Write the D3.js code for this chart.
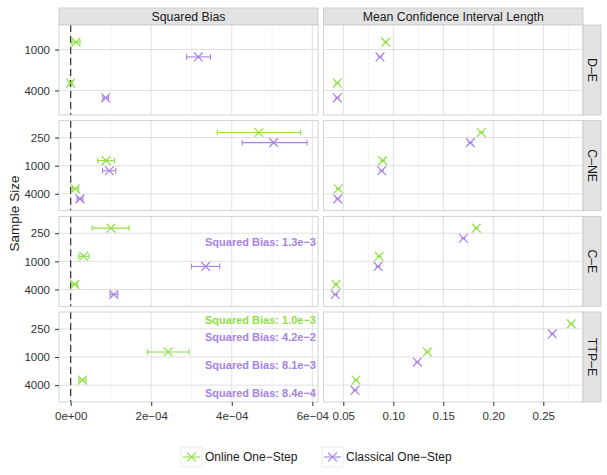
<!DOCTYPE html>
<html>
<head>
<meta charset="utf-8">
<script src="https://cdn.jsdelivr.net/npm/d3@7/dist/d3.min.js"></script>
<style>
  body { margin: 0; background: #fff; }
  svg { font-family: "Liberation Sans", Arial, Helvetica, sans-serif; }
</style>
</head>
<body>
<div id="chart"></div>
<script>

// facet rows and sample sizes per row
var panelRows = ["D\u2013E", "C\u2013NE", "C\u2013E", "TTP\u2013E"];
var sampleSizes = [["1000", "4000"], ["250", "1000", "4000"], ["250", "1000", "4000"], ["250", "1000", "4000"]];
var methods = ["Online One\u2212Step", "Classical One\u2212Step"];
var columns = ["Squared Bias", "Mean Confidence Interval Length"];

// squared bias: [row, n, estimate, lower, upper]
var onlineBias = [
  ["D\u2013E", "1000", 1.3e-5, 0.3e-5, 2.3e-5],
  ["D\u2013E", "4000", 0.0, -0.4e-5, 0.4e-5],
  ["C\u2013NE", "250", 4.67e-4, 3.64e-4, 5.71e-4],
  ["C\u2013NE", "1000", 8.8e-5, 6.7e-5, 1.09e-4],
  ["C\u2013NE", "4000", 1.15e-5, 0.4e-5, 2.0e-5],
  ["C\u2013E", "250", 1.0e-4, 5.3e-5, 1.45e-4],
  ["C\u2013E", "1000", 3.2e-5, 2.0e-5, 4.5e-5],
  ["C\u2013E", "4000", 1.0e-5, 0.3e-5, 1.7e-5],
  ["TTP\u2013E", "250", 1.0e-3, 1.0e-3, 1.0e-3],
  ["TTP\u2013E", "1000", 2.42e-4, 1.91e-4, 2.94e-4],
  ["TTP\u2013E", "4000", 2.9e-5, 2.0e-5, 3.8e-5]
];
var classicalBias = [
  ["D\u2013E", "1000", 3.17e-4, 2.88e-4, 3.47e-4],
  ["D\u2013E", "4000", 8.7e-5, 8.0e-5, 9.4e-5],
  ["C\u2013NE", "250", 5.04e-4, 4.26e-4, 5.87e-4],
  ["C\u2013NE", "1000", 9.6e-5, 7.9e-5, 1.12e-4],
  ["C\u2013NE", "4000", 2.3e-5, 1.6e-5, 3.0e-5],
  ["C\u2013E", "250", 1.3e-3, 1.3e-3, 1.3e-3],
  ["C\u2013E", "1000", 3.35e-4, 3.0e-4, 3.7e-4],
  ["C\u2013E", "4000", 1.07e-4, 9.8e-5, 1.17e-4],
  ["TTP\u2013E", "250", 4.2e-2, 4.2e-2, 4.2e-2],
  ["TTP\u2013E", "1000", 8.1e-3, 8.1e-3, 8.1e-3],
  ["TTP\u2013E", "4000", 8.4e-4, 8.4e-4, 8.4e-4]
];

// mean confidence interval length: [row, n, value]
var onlineCILength = [
  ["D\u2013E", "1000", 0.0924], ["D\u2013E", "4000", 0.0440],
  ["C\u2013NE", "250", 0.188], ["C\u2013NE", "1000", 0.0894], ["C\u2013NE", "4000", 0.0450],
  ["C\u2013E", "250", 0.183], ["C\u2013E", "1000", 0.0857], ["C\u2013E", "4000", 0.0427],
  ["TTP\u2013E", "250", 0.278], ["TTP\u2013E", "1000", 0.134], ["TTP\u2013E", "4000", 0.0627]
];
var classicalCILength = [
  ["D\u2013E", "1000", 0.0867], ["D\u2013E", "4000", 0.0440],
  ["C\u2013NE", "250", 0.177], ["C\u2013NE", "1000", 0.0884], ["C\u2013NE", "4000", 0.0444],
  ["C\u2013E", "250", 0.170], ["C\u2013E", "1000", 0.0847], ["C\u2013E", "4000", 0.0420],
  ["TTP\u2013E", "250", 0.259], ["TTP\u2013E", "1000", 0.124], ["TTP\u2013E", "4000", 0.0617]
];

var biasTicks = [0, 2e-4, 4e-4, 6e-4];
var ciTicks = [0.05, 0.10, 0.15, 0.20, 0.25];

var colors = ["#8ee046", "#a681e6"];

var width = 607, height = 475;
var leftPanel = [59, 318], rightPanel = [323.5, 583], stripX = [583, 601];
var topStrip = [8, 25];
var rowTop = 25, rowH = 90, rowGap = 5.67;

var svg = d3.select("#chart").append("svg")
  .attr("width", width).attr("height", height);

var xBias = d3.scaleLinear().domain([0, 6e-4]).range([70.7, 312.3]);
var xCI = d3.scaleLinear().domain([0.05, 0.25]).range([343.3, 543.3]);
var biasMax = xBias.invert(leftPanel[1]);

function sciFormat(d) {
  if (d === 0) return "0e+00";
  var s = d3.format(".0e")(d);           // e.g. 2e-4
  var parts = s.split("e");
  var exp = +parts[1];
  return parts[0] + "e" + (exp < 0 ? "\u2212" : "+") + d3.format("02d")(Math.abs(exp));
}

function drawX(g, cx, cy, r, color) {
  g.append("path")
    .attr("d", "M" + (cx - r) + "," + (cy - r) + "L" + (cx + r) + "," + (cy + r) +
               "M" + (cx - r) + "," + (cy + r) + "L" + (cx + r) + "," + (cy - r))
    .attr("stroke", color).attr("stroke-width", 1.2).attr("fill", "none");
}

// column strips
[leftPanel, rightPanel].forEach(function (p, i) {
  svg.append("rect")
    .attr("x", p[0]).attr("y", topStrip[0])
    .attr("width", p[1] - p[0]).attr("height", topStrip[1] - topStrip[0])
    .attr("fill", "#e3e3e3").attr("stroke", "#c8c8c8").attr("stroke-width", 0.8);
  svg.append("text")
    .attr("x", (p[0] + p[1]) / 2).attr("y", (topStrip[0] + topStrip[1]) / 2)
    .attr("dy", "0.35em").attr("text-anchor", "middle")
    .attr("font-size", 12.3).attr("fill", "#1a1a1a")
    .text(columns[i]);
});

panelRows.forEach(function (row, ri) {
  var top = rowTop + ri * (rowH + rowGap);
  var bottom = top + rowH;
  var y = d3.scalePoint().domain(sampleSizes[ri]).range([top, bottom]).padding(0.6);
  var dodge = y.step() * 0.18;
  var textShift = 8.5;

  [leftPanel, rightPanel].forEach(function (p, ci) {
    var g = svg.append("g");
    var xs = ci === 0 ? xBias : xCI;
    g.append("rect")
      .attr("x", p[0]).attr("y", top).attr("width", p[1] - p[0]).attr("height", rowH)
      .attr("fill", "#fff");

    // minor grid
    var majors = ci === 0 ? biasTicks : ciTicks;
    var step = majors[1] - majors[0];
    var minors = [];
    for (var k = -1; k < majors.length; k++) {
      var m = majors[0] + (k + 0.5) * step;
      if (xs(m) > p[0] && xs(m) < p[1]) minors.push(m);
    }
    g.selectAll(".minor").data(minors).enter().append("line")
      .attr("x1", xs).attr("x2", xs).attr("y1", top).attr("y2", bottom)
      .attr("stroke", "#ececec").attr("stroke-width", 0.6);
    g.selectAll(".major").data(majors.filter(function (d) { return xs(d) <= p[1]; })).enter().append("line")
      .attr("x1", xs).attr("x2", xs).attr("y1", top).attr("y2", bottom)
      .attr("stroke", "#dcdcdc").attr("stroke-width", 0.9);
    g.selectAll(".hgrid").data(sampleSizes[ri]).enter().append("line")
      .attr("x1", p[0]).attr("x2", p[1]).attr("y1", y).attr("y2", y)
      .attr("stroke", "#dcdcdc").attr("stroke-width", 0.9);

    if (ci === 0) {
      g.append("line")
        .attr("x1", xBias(0)).attr("x2", xBias(0)).attr("y1", top).attr("y2", bottom)
        .attr("stroke", "#222").attr("stroke-width", 1.1).attr("stroke-dasharray", "7,4");

      [onlineBias, classicalBias].forEach(function (series, si) {
        var off = si === 0 ? -dodge : dodge;
        series.filter(function (d) { return d[0] === row; }).forEach(function (d) {
          var cy = y(d[1]) + off;
          if (d[2] > biasMax) {
            g.append("text")
              .attr("x", p[1] - 2).attr("y", y(d[1]) + (si === 0 ? -textShift : textShift))
              .attr("dy", "0.35em").attr("text-anchor", "end")
              .attr("font-size", 11).attr("font-weight", "bold").attr("fill", colors[si])
              .text("Squared Bias: " + d3.format(".1e")(d[2]).replace("-", "\u2212"));
            return;
          }
          g.append("line")
            .attr("x1", xBias(d[3])).attr("x2", xBias(d[4])).attr("y1", cy).attr("y2", cy)
            .attr("stroke", colors[si]).attr("stroke-width", 1.1);
          [d[3], d[4]].forEach(function (v) {
            g.append("line")
              .attr("x1", xBias(v)).attr("x2", xBias(v)).attr("y1", cy - 2.8).attr("y2", cy + 2.8)
              .attr("stroke", colors[si]).attr("stroke-width", 1.1);
          });
          drawX(g, xBias(d[2]), cy, 4.4, colors[si]);
        });
      });
    } else {
      [onlineCILength, classicalCILength].forEach(function (series, si) {
        var off = si === 0 ? -dodge : dodge;
        series.filter(function (d) { return d[0] === row; }).forEach(function (d) {
          var cy = y(d[1]) + off;
          g.append("line")
            .attr("x1", xCI(d[2]) - 2.5).attr("x2", xCI(d[2]) + 2.5).attr("y1", cy).attr("y2", cy)
            .attr("stroke", colors[si]).attr("stroke-width", 1.1);
          drawX(g, xCI(d[2]), cy, 4.4, colors[si]);
        });
      });
    }

    g.append("rect")
      .attr("x", p[0]).attr("y", top).attr("width", p[1] - p[0]).attr("height", rowH)
      .attr("fill", "none").attr("stroke", "#c8c8c8").attr("stroke-width", 0.8);
  });

  // y axis
  var ya = svg.append("g").attr("transform", "translate(" + leftPanel[0] + ",0)")
    .call(d3.axisLeft(y).tickSize(4).tickPadding(5));
  ya.select(".domain").remove();
  ya.selectAll("line").attr("stroke", "#333");
  ya.selectAll("text").attr("font-size", 11.5).attr("fill", "#333")
    .attr("font-family", "Liberation Sans, Arial, sans-serif");

  // right strip
  svg.append("rect")
    .attr("x", stripX[0]).attr("y", top).attr("width", stripX[1] - stripX[0]).attr("height", rowH)
    .attr("fill", "#e3e3e3").attr("stroke", "#c8c8c8").attr("stroke-width", 0.8);
  svg.append("text")
    .attr("transform", "translate(" + ((stripX[0] + stripX[1]) / 2) + "," + (top + rowH / 2) + ") rotate(90)")
    .attr("dy", "0.35em").attr("text-anchor", "middle")
    .attr("font-size", 12.3).attr("fill", "#1a1a1a")
    .text(row);
});

var panelBottom = rowTop + 4 * rowH + 3 * rowGap;

var xa1 = svg.append("g").attr("transform", "translate(0," + panelBottom + ")")
  .call(d3.axisBottom(xBias).tickValues(biasTicks).tickFormat(sciFormat).tickSize(4).tickPadding(6));
var xa2 = svg.append("g").attr("transform", "translate(0," + panelBottom + ")")
  .call(d3.axisBottom(xCI).tickValues(ciTicks).tickFormat(d3.format(".2f")).tickSize(4).tickPadding(6));
[xa1, xa2].forEach(function (a) {
  a.select(".domain").remove();
  a.selectAll("line").attr("stroke", "#333");
  a.selectAll("text").attr("font-size", 11.5).attr("fill", "#333")
    .attr("font-family", "Liberation Sans, Arial, sans-serif");
});

svg.append("text")
  .attr("transform", "translate(14," + ((rowTop + panelBottom) / 2) + ") rotate(-90)")
  .attr("dy", "0.35em").attr("text-anchor", "middle")
  .attr("font-size", 13.5).attr("fill", "#1a1a1a")
  .text("Sample Size");

// legend
var legendX = [181, 322];
methods.forEach(function (m, i) {
  var lg = svg.append("g").attr("transform", "translate(" + legendX[i] + ",447)");
  lg.append("rect").attr("width", 21).attr("height", 20)
    .attr("fill", "#fff").attr("stroke", "#e6e6e6").attr("stroke-width", 0.8);
  lg.append("line").attr("x1", 2).attr("x2", 19).attr("y1", 10).attr("y2", 10)
    .attr("stroke", colors[i]).attr("stroke-width", 1.1);
  drawX(lg, 10.5, 10, 4.4, colors[i]);
  lg.append("text").attr("x", 24).attr("y", 10).attr("dy", "0.35em")
    .attr("font-size", 12).attr("fill", "#1a1a1a").text(m);
});

</script>
</body>
</html>
